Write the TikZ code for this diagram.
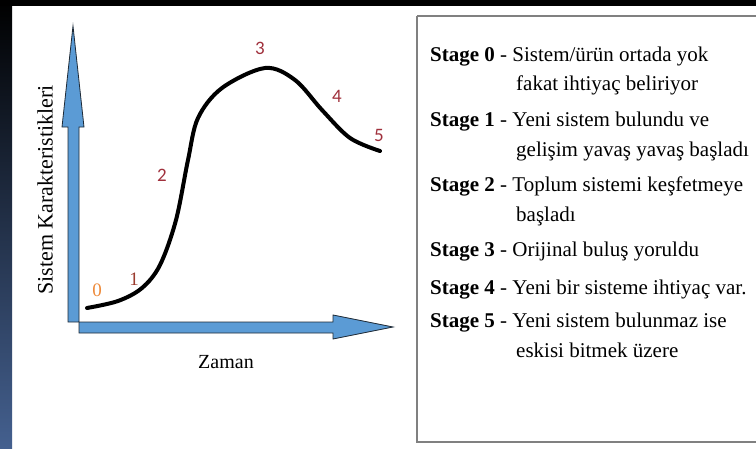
\documentclass[tikz,border=0pt]{standalone}
\usepackage{fontspec}
\setmainfont{Liberation Serif}
\newfontfamily\numfont{Carlito}
\definecolor{axisblue}{HTML}{5B9BD5}
\definecolor{axisedge}{HTML}{1E2A36}
\definecolor{stripbot}{HTML}{44608F}
\definecolor{boxgray}{HTML}{808080}
\definecolor{numorange}{HTML}{EE8A3A}
\definecolor{numred}{HTML}{A0303C}
\definecolor{numbrown}{HTML}{9B3B2E}
\begin{document}
\begin{tikzpicture}[x=1pt,y=-1pt,
  axisarrow/.style={fill=axisblue,draw=axisedge,line width=0.8pt,line join=miter},
  stagetxt/.style={anchor=base west,inner sep=0pt,font=\fontsize{21}{24}\selectfont},
  numlbl/.style={inner sep=0pt,font=\numfont\fontsize{19}{22}\selectfont,text=numred}]
\useasboundingbox (0,0) rectangle (756,448);
\fill[white] (0,0) rectangle (756,448);
% background frame
\shade[top color=black,bottom color=stripbot] (0,0) rectangle (12,448);
\fill[black] (0,0) rectangle (756,6);
% axes
\draw[axisarrow] (68,322) -- (68,127) -- (62,127) -- (73,26) -- (84,127) -- (79,127) -- (79,322) -- cycle;
\draw[axisarrow] (79,322) -- (333,322) -- (333,315) -- (393,327) -- (333,339) -- (333,333) -- (79,333) -- cycle;
% curve
\draw[line width=4pt,line cap=round] plot[smooth,tension=0.55] coordinates {
  (87,308) (118,301) (142,288) (160,265) (176,220) (188,160) (198,118) (222,88) (265,68) (295,80) (322,110) (350,138) (380,151)};
% stage numbers
\node[numlbl,text=numorange,font=\fontsize{19}{22}\selectfont] (n0) at (97,290) {0};
\node[numlbl,text=numbrown,font=\fontsize{19}{22}\selectfont] (n1) at (134,279) {1};
\node[numlbl] (n2) at (162,175) {2};
\node[numlbl] (n3) at (260,48) {3};
\node[numlbl] (n4) at (337,96) {4};
\node[numlbl] (n5) at (379,135) {5};
% axis labels
\node[rotate=90,inner sep=0pt,font=\fontsize{22}{24}\selectfont] (ylab) at (45,190) {Sistem Karakteristikleri};
\node[inner sep=0pt,font=\fontsize{20}{24}\selectfont] (xlab) at (226,362) {Zaman};
% legend box
\draw[boxgray,line width=2pt] (417,16) -- (417,442) -- (770,442);
\draw[boxgray,line width=2pt] (417,16) -- (770,16);
\node[stagetxt] (s0) at (430,61) {\textbf{Stage 0} - Sistem/ürün ortada yok};
\node[stagetxt] (s0b) at (516,90) {fakat ihtiyaç beliriyor};
\node[stagetxt] (s1) at (430,126) {\textbf{Stage 1} - Yeni sistem bulundu ve};
\node[stagetxt] (s1b) at (516,156) {gelişim yavaş yavaş başladı};
\node[stagetxt] (s2) at (430,191) {\textbf{Stage 2} - Toplum sistemi keşfetmeye};
\node[stagetxt] (s2b) at (516,221) {başladı};
\node[stagetxt] (s3) at (430,256) {\textbf{Stage 3} - Orijinal buluş yoruldu};
\node[stagetxt] (s4) at (430,294) {\textbf{Stage 4} - Yeni bir sisteme ihtiyaç var.};
\node[stagetxt] (s5) at (430,327) {\textbf{Stage 5} - Yeni sistem bulunmaz ise};
\node[stagetxt] (s5b) at (516,357) {eskisi bitmek üzere};
\end{tikzpicture}
\end{document}
